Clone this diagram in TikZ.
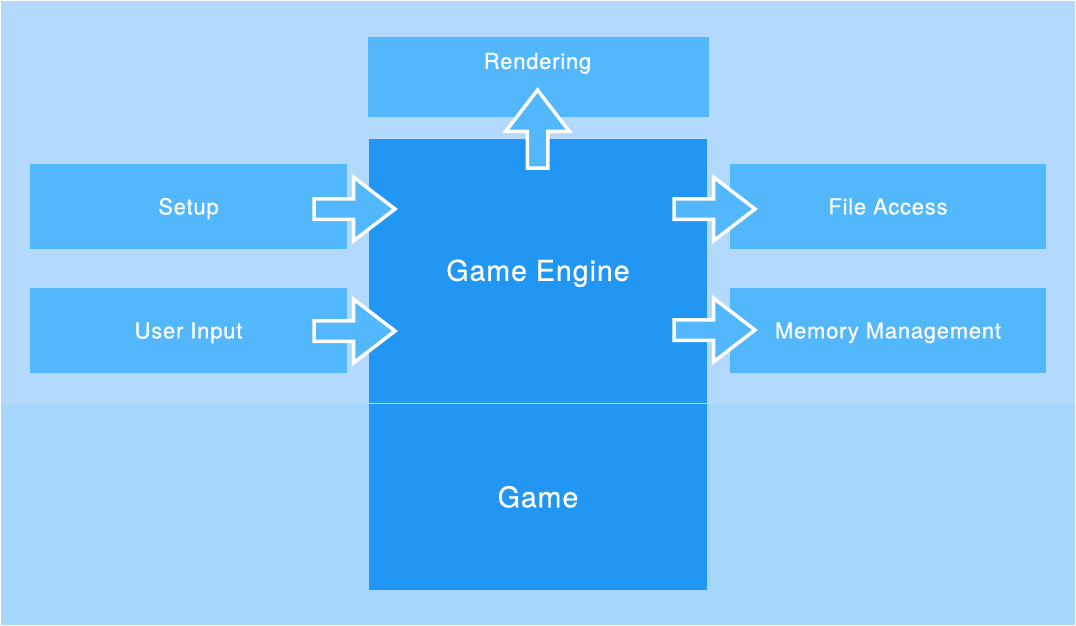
\documentclass[tikz,border=0pt]{standalone}
\usepackage{fontspec}
\setmainfont{TeX Gyre Heros}[LetterSpace=3.5, FakeBold=0.6]
\usetikzlibrary{shapes,shapes.arrows,calc}
\definecolor{bgtop}{HTML}{B3DAFD}
\definecolor{bgbot}{HTML}{A6D6FB}
\definecolor{lightbox}{HTML}{53B7FB}
\definecolor{darkbox}{HTML}{2196F3}
\tikzset{
    block/.style = {rectangle, fill=lightbox, text=white, inner sep=0pt,
        minimum height=85pt, minimum width=317pt,
        text height=15.8pt, text depth=0pt,
        font=\fontsize{22}{26}\selectfont},
    core/.style = {block, fill=darkbox, minimum width=338pt,
        text height=20.5pt, font=\fontsize{28.5}{34}\selectfont},
    bigarrow/.style = {single arrow, draw=white, line width=3.5pt, fill=lightbox,
        minimum height=81pt, minimum width=0pt, single arrow head extend=21.5pt,
        single arrow tip angle=75, inner xsep=0pt, inner ysep=8.5pt,
        outer sep=0pt, anchor=tail}
}
\begin{document}
\begin{tikzpicture}[x=1pt,y=-1pt]
    \useasboundingbox (0,0) rectangle (1076,626);
    \fill[bgtop] (1,1) rectangle (1075,404);
    \fill[bgbot] (1,404) rectangle (1075,625);
    % boxes
    \node [block, minimum width=341pt, minimum height=80pt] (render) at (538.5,77) {};
    \node [text=white, inner sep=0pt, text height=15.8pt, text depth=0pt,
        font=\fontsize{22}{26}\selectfont] (rendertxt) at (537.5,61) {Rendering};
    \node [core, minimum height=264pt] (engine) at (538,270.5) {Game Engine};
    \node [core, minimum height=186pt] (game) at (538,497) {Game};
    \node [block] (setup) at (188.5,206.5) {Setup};
    \node [block] (input) at (188.5,330.5) {User Input};
    \node [block, minimum width=316pt] (files) at (888,206.5) {File Access};
    \node [block, minimum width=316pt] (memory) at (888,330.5) {Memory Management};
    % arrows
    \node [bigarrow] (setuparrow) at (314,209) {};
    \node [bigarrow] (inputarrow) at (314,331) {};
    \node [bigarrow] (filesarrow) at (674,209) {};
    \node [bigarrow] (memoryarrow) at (674,330) {};
    \node [bigarrow, rotate=90, minimum height=78pt] (renderarrow) at (537.5,168) {};
\end{tikzpicture}
\end{document}
